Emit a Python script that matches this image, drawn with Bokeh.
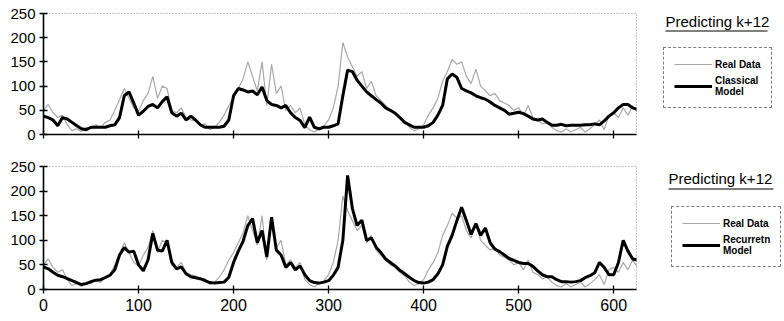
from bokeh.plotting import figure
from bokeh.layouts import column, row
from bokeh.models import Range1d, FixedTicker, Legend, LegendItem, Label, BoxAnnotation
from bokeh.embed import file_html
from bokeh.resources import INLINE

# ---- data (one value every 5 steps) ----
x_vals = list(range(0, 630, 5))

real_data = [
    50, 62, 45, 35, 40, 20, 8, 12, 6, 15,
    12, 20, 14, 25, 30, 50, 72, 95, 75, 55,
    48, 70, 85, 120, 75, 100, 95, 50, 45, 55,
    35, 30, 28, 20, 22, 10, 15, 25, 40, 60,
    75, 95, 115, 150, 120, 90, 150, 60, 145, 85,
    100, 50, 60, 45, 55, 20, 10, 5, 12, 18,
    30, 55, 100, 190, 160, 140, 120, 130, 95, 110,
    80, 70, 60, 50, 45, 35, 28, 15, 8, 12,
    20, 40, 55, 75, 110, 130, 155, 145, 150, 120,
    105, 135, 100, 90, 80, 85, 70, 65, 60, 50,
    55, 40, 60, 35, 30, 22, 25, 15, 8, 5,
    12, 5, 10, 15, 5, 12, 20, 30, 10, 40,
    45, 35, 55, 40, 60, 45,
]

classical_model = [
    38, 35, 30, 18, 35, 32, 25, 18, 12, 10,
    15, 15, 15, 15, 18, 20, 35, 80, 88, 65,
    40, 48, 58, 62, 55, 68, 78, 45, 38, 44,
    30, 38, 30, 20, 15, 15, 15, 15, 17, 30,
    80, 95, 92, 88, 90, 82, 98, 70, 62, 60,
    55, 60, 45, 35, 29, 14, 36, 15, 12, 15,
    15, 18, 22, 80, 133, 130, 112, 100, 88, 80,
    72, 65, 55, 50, 44, 35, 25, 20, 15, 15,
    15, 18, 25, 40, 60, 115, 125, 118, 95, 90,
    86, 80, 76, 73, 67, 60, 55, 50, 42, 44,
    46, 43, 38, 32, 30, 32, 25, 19, 19, 21,
    18, 19, 19, 19, 20, 20, 22, 20, 28, 38,
    45, 55, 62, 62, 55, 52,
]

recurrent_model = [
    46, 42, 35, 29, 26, 22, 18, 14, 10, 12,
    16, 19, 20, 24, 29, 40, 70, 85, 76, 78,
    50, 38, 60, 114, 80, 78, 100, 55, 42, 46,
    32, 26, 24, 22, 18, 14, 13, 14, 15, 25,
    55, 78, 98, 130, 144, 95, 120, 66, 147, 80,
    70, 45, 55, 40, 48, 30, 18, 14, 13, 15,
    18, 29, 45, 100, 232, 165, 130, 141, 100, 105,
    86, 75, 62, 55, 48, 39, 32, 25, 18, 14,
    13, 15, 20, 32, 50, 88, 110, 140, 167, 140,
    112, 134, 110, 125, 95, 82, 77, 70, 63, 59,
    55, 53, 53, 47, 38, 30, 26, 26, 20, 16,
    16, 15, 16, 18, 24, 28, 34, 55, 45, 30,
    30, 55, 100, 78, 62, 60,
]

x_ticks = [0, 100, 200, 300, 400, 500, 600]
y_ticks = [0, 50, 100, 150, 200, 250]
panel_title = "Predicting k+12"
real_label = "Real Data"
classical_label = "Classical\nModel"
recurrent_label = "Recurretn\nModel"

assert len(real_data) == len(x_vals) == len(classical_model) == len(recurrent_model)

FONT = "Liberation Sans"
REAL_COLOR = "#a8a8a8"
MODEL_WIDTH = 3
SIDE_W = 144
NAN = float("nan")


def make_main(model_vals, height, border_top, border_bottom, show_x_labels):
    p = figure(width=640, height=height, output_backend="svg", toolbar_location=None,
               x_range=Range1d(0, 624), y_range=Range1d(0, 250),
               min_border_left=43, min_border_right=4,
               min_border_top=border_top, min_border_bottom=border_bottom)
    p.background_fill_color = "white"
    p.border_fill_color = "white"
    p.xgrid.visible = False
    p.ygrid.visible = False
    p.outline_line_color = "#8a8a8a"
    p.outline_line_dash = "1 2"
    p.outline_line_width = 1

    p.line(x_vals, real_data, line_color=REAL_COLOR, line_width=1.2)
    p.line(x_vals, model_vals, line_color="black", line_width=MODEL_WIDTH)

    for ax in (p.xaxis[0], p.yaxis[0]):
        ax.axis_line_color = "black"
        ax.axis_line_width = 1.6
        ax.major_tick_line_color = "black"
        ax.major_tick_line_width = 1.3
        ax.major_tick_in = 4
        ax.major_tick_out = 4
        ax.minor_tick_line_color = None

    p.xaxis.ticker = FixedTicker(ticks=x_ticks)
    p.yaxis.ticker = FixedTicker(ticks=y_ticks)
    p.yaxis.major_label_text_font = FONT
    p.yaxis.major_label_text_font_size = "15px"
    p.yaxis.major_label_text_color = "black"
    p.yaxis.major_label_standoff = 4
    if show_x_labels:
        p.xaxis.major_label_text_font = FONT
        p.xaxis.major_label_text_font_size = "16px"
        p.xaxis.major_label_text_color = "black"
        p.xaxis.major_label_standoff = 5
    else:
        p.xaxis.major_label_overrides = {t: "" for t in x_ticks}
        p.xaxis.major_label_text_font_size = "1px"
        p.xaxis.major_label_standoff = 0
    return p


def make_side(height, border_top, border_bottom, model_label, title_xy, underline,
              legend_loc, padding):
    frame_h = height - border_top - border_bottom
    # y coordinates of this side panel = pixels above the frame bottom
    s = figure(width=SIDE_W, height=height, output_backend="svg", toolbar_location=None,
               x_range=Range1d(0, SIDE_W), y_range=Range1d(0, frame_h),
               min_border_left=0, min_border_right=0,
               min_border_top=border_top, min_border_bottom=border_bottom)
    s.axis.visible = False
    s.grid.visible = False
    s.outline_line_color = None
    s.background_fill_color = "white"
    s.border_fill_color = "white"
    # legend sample proxies only (NaN values draw nothing)
    r_real = s.line([0, 1], [NAN, NAN], line_color=REAL_COLOR, line_width=1.2)
    r_model = s.line([0, 1], [NAN, NAN], line_color="black", line_width=MODEL_WIDTH)

    s.add_layout(Label(x=title_xy[0], y=title_xy[1], text=panel_title,
                       text_font=FONT, text_font_size="15px", text_color="black",
                       text_baseline="alphabetic"))
    s.add_layout(BoxAnnotation(left=underline[0], right=underline[1],
                               bottom=underline[2], top=underline[2] + 1,
                               fill_color="black", fill_alpha=1, line_color=None))

    legend = Legend(items=[LegendItem(label=real_label, renderers=[r_real]),
                           LegendItem(label=model_label, renderers=[r_model])],
                    location=legend_loc)
    legend.border_line_color = "black"
    legend.border_line_dash = "1 1"
    legend.border_line_width = 1
    legend.background_fill_color = "white"
    legend.background_fill_alpha = 1
    legend.label_text_font = FONT
    legend.label_text_font_size = "10px"
    legend.label_text_font_style = "bold"
    legend.label_text_color = "black"
    legend.label_text_line_height = 1.3
    legend.glyph_width = 38
    legend.glyph_height = 12
    legend.label_standoff = 3
    legend.padding = padding
    legend.spacing = 5
    legend.margin = 0
    s.add_layout(legend, "center")
    return s


p1 = make_main(classical_model, 150, 13, 16, False)
s1 = make_side(150, 13, 16, classical_label, (25, 113), (25, 127, 103), (23, 26), 10)
p2 = make_main(recurrent_model, 171, 16, 32, True)
s2 = make_side(171, 16, 32, recurrent_label, (28, 111), (28, 133, 100), (31, 22), 10)

layout = column(row(p1, s1, spacing=0), row(p2, s2, spacing=0), spacing=0)

with open("out.html", "w") as f:
    f.write(file_html(layout, INLINE))
